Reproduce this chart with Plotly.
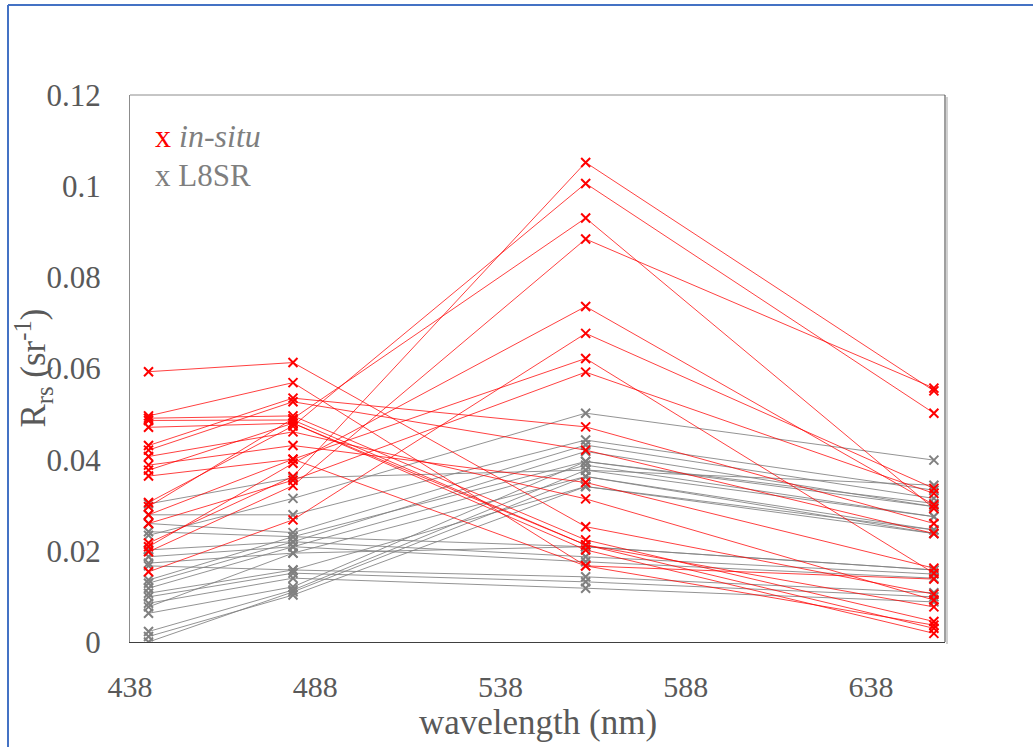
import plotly.graph_objects as go

# Landsat 8 OLI band centres (nm)
wavelengths = [443, 482, 561, 655]

# In-situ remote-sensing reflectance (sr^-1), one entry per station
insitu_443 = [0.0593, 0.0496, 0.0491, 0.0486, 0.0471, 0.0431, 0.0421, 0.0407, 0.0388, 0.0377, 0.0364,
              0.0217, 0.0306, 0.0297, 0.0198, 0.0209, 0.0154, 0.0279, 0.0260]
insitu_482 = [0.0613, 0.0569, 0.0496, 0.0487, 0.0480, 0.0535, 0.0527, 0.0461, 0.0431, 0.0480, 0.0401,
              0.0363, 0.0474, 0.0490, 0.0343, 0.0392, 0.0268, 0.0401, 0.0355]
insitu_561 = [0.0253, 0.0167, 0.0224, 0.0213, 0.0202, 0.0472, 0.0421, 0.0314, 0.0350, 0.0213, 0.0167,
              0.1052, 0.1006, 0.0930, 0.0884, 0.0736, 0.0677, 0.0622, 0.0592]
insitu_655 = [0.0105, 0.0037, 0.0045, 0.0030, 0.0019, 0.0260, 0.0238, 0.0092, 0.0162, 0.0077, 0.0138,
              0.0551, 0.0502, 0.0293, 0.0557, 0.0301, 0.0337, 0.0151, 0.0326]

# Landsat 8 surface reflectance product (sr^-1)
l8sr_443 = [0.0303, 0.0234, 0.0279, 0.0260, 0.0242, 0.0202, 0.0187, 0.0173, 0.0167, 0.0136,
            0.0129, 0.0118, 0.0107, 0.0099, 0.0085, 0.0077, 0.0063, 0.0023, 0.0012, 0.0000]
l8sr_482 = [0.0360, 0.0315, 0.0279, 0.0240, 0.0231, 0.0220, 0.0209, 0.0195, 0.0158, 0.0231,
            0.0220, 0.0209, 0.0158, 0.0151, 0.0140, 0.0195, 0.0121, 0.0114, 0.0103, 0.0110]
l8sr_561 = [0.0377, 0.0502, 0.0443, 0.0432, 0.0396, 0.0418, 0.0388, 0.0363, 0.0341, 0.0209,
            0.0187, 0.0176, 0.0143, 0.0132, 0.0118, 0.0209, 0.0396, 0.0377, 0.0341, 0.0363]
l8sr_655 = [0.0344, 0.0399, 0.0333, 0.0315, 0.0304, 0.0297, 0.0275, 0.0246, 0.0238, 0.0158,
            0.0149, 0.0140, 0.0108, 0.0099, 0.0088, 0.0158, 0.0297, 0.0275, 0.0246, 0.0238]

x_ticks = [438, 488, 538, 588, 638]
y_ticks = [0, 0.02, 0.04, 0.06, 0.08, 0.1, 0.12]
y_labels = ["0", "0.02", "0.04", "0.06", "0.08", "0.1", "0.12"]

FONT = "Liberation Serif, Times New Roman, serif"
TXT = "#595959"

fig = go.Figure()


def add_group(bands, line_color, marker_color):
    for vals in zip(*bands):
        fig.add_trace(go.Scatter(
            x=wavelengths, y=list(vals), mode="lines+markers",
            line=dict(color=line_color, width=1),
            marker=dict(symbol="x-thin", size=9, color=marker_color,
                        line=dict(color=marker_color, width=2)),
            showlegend=False, hoverinfo="skip",
        ))


add_group([l8sr_443, l8sr_482, l8sr_561, l8sr_655], "rgba(128,128,128,0.85)", "#808080")
add_group([insitu_443, insitu_482, insitu_561, insitu_655], "rgba(255,0,0,0.75)", "#ff0000")

L, R, T, B = 130, 88, 95, 105
W, H = 1033, 747
pw, ph = W - L - R, H - T - B


def px_x(p):
    return (p - L) / pw


def px_y(p):
    return (H - B - p) / ph


shapes = [
    # page frame
    dict(type="line", xref="paper", yref="paper", x0=px_x(8), x1=px_x(1040), y0=px_y(5), y1=px_y(5),
         line=dict(color="#4472c4", width=2)),
    dict(type="line", xref="paper", yref="paper", x0=px_x(8), x1=px_x(8), y0=px_y(5), y1=px_y(760),
         line=dict(color="#4472c4", width=2)),
    # plot-area border
    dict(type="line", xref="paper", yref="paper", x0=0, x1=1, y0=1, y1=1,
         line=dict(color="#8c8c8c", width=1)),
    dict(type="line", xref="paper", yref="paper", x0=px_x(947), x1=px_x(947), y0=px_y(97), y1=px_y(644),
         line=dict(color="#d0d0d0", width=2)),
    dict(type="line", xref="paper", yref="paper", x0=1, x1=1, y0=0, y1=1,
         line=dict(color="#404040", width=1)),
]

annotations = [
    dict(xref="paper", yref="paper", x=px_x(153), y=px_y(136), xanchor="left", yanchor="middle",
         showarrow=False, text='<span style="color:#ff0000">x</span> <i>in-situ</i>',
         font=dict(family=FONT, size=32, color="#7f7f7f")),
    dict(xref="paper", yref="paper", x=px_x(153), y=px_y(175), xanchor="left", yanchor="middle",
         showarrow=False, text="x L8SR",
         font=dict(family=FONT, size=31, color="#7f7f7f")),
    dict(xref="paper", yref="paper", x=0.5, y=px_y(722), xanchor="center", yanchor="middle",
         showarrow=False, text="wavelength (nm)",
         font=dict(family=FONT, size=35, color=TXT)),
    dict(xref="paper", yref="paper", x=px_x(33), y=0.5, xanchor="center", yanchor="middle",
         showarrow=False, textangle=-90, text="R<sub>rs</sub> (sr<sup>-1</sup>)",
         font=dict(family=FONT, size=35, color=TXT)),
]

fig.update_layout(
    width=W, height=H,
    margin=dict(l=L, r=R, t=T, b=B, autoexpand=False),
    paper_bgcolor="white", plot_bgcolor="white",
    font=dict(family=FONT, color=TXT),
    shapes=shapes, annotations=annotations,
    xaxis=dict(range=[438, 658], tickvals=x_ticks, ticktext=[str(v) for v in x_ticks],
               showgrid=False, zeroline=False, showline=True, linecolor="#404040", linewidth=1,
               ticks="", tickfont=dict(family=FONT, size=30, color=TXT), ticklabelstandoff=18),
    yaxis=dict(range=[0, 0.12], tickvals=y_ticks, ticktext=y_labels,
               showgrid=False, zeroline=False, showline=True, linecolor="#8c8c8c", linewidth=1,
               ticks="", tickfont=dict(family=FONT, size=31, color=TXT), ticklabelstandoff=22),
)

fig.write_html("out.html")
